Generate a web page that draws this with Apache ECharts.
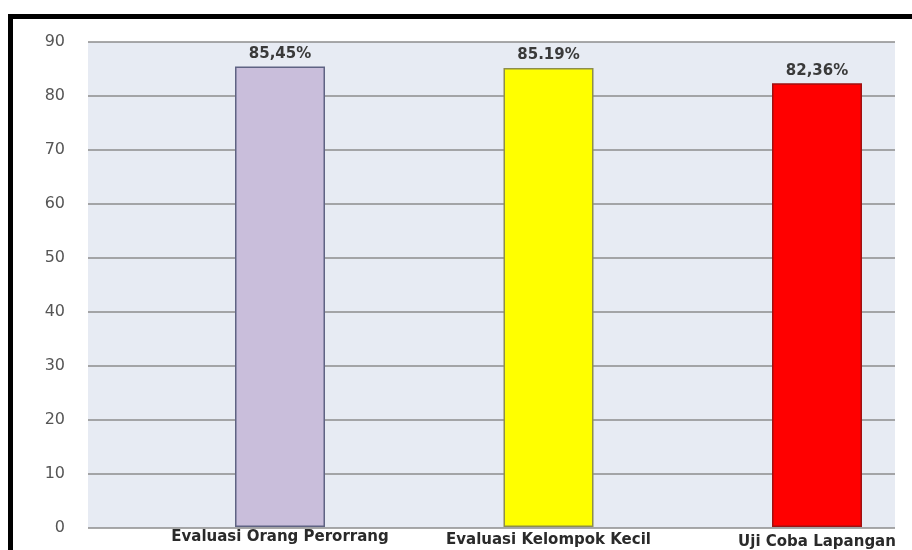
<!DOCTYPE html>
<html>
<head>
<meta charset="utf-8">
<script src="https://cdn.jsdelivr.net/npm/echarts@6/dist/echarts.min.js"></script>
<style>
  html, body { margin: 0; padding: 0; background: #fff; }
  #wrap { position: relative; width: 912px; height: 550px; overflow: hidden; }
  #chart { position: absolute; left: 0; top: 0; width: 912px; height: 550px; }
  #frame { position: absolute; left: 8px; top: 14px; width: 920px; height: 560px;
           border-top: 5px solid #000; border-left: 5px solid #000; pointer-events: none; box-sizing: border-box; }
</style>
</head>
<body>
<div id="wrap">
  <div id="chart"></div>
  <div id="frame"></div>
</div>
<script>
const categories = ["Evaluasi Orang Perorrang", "Evaluasi Kelompok Kecil", "Uji Coba Lapangan"];
const values = [85.45, 85.19, 82.36];
const valueLabels = ["85,45%", "85.19%", "82,36%"];
const barColors = ["#c9bedb", "#ffff00", "#ff0000"];
const barBorders = ["#5f6383", "#8e8e4a", "#a01010"];
const yTicks = [0, 10, 20, 30, 40, 50, 60, 70, 80, 90];

const chart = echarts.init(document.getElementById('chart'), null, { renderer: 'canvas' });

const labelStyle = { fontFamily: 'DejaVu Sans', fontWeight: 'bold', fontSize: 15, color: '#2a2a2a' };

const option = {
  animation: false,
  backgroundColor: '#ffffff',
  grid: [
    { left: 88, right: 17, top: 42, bottom: 22, show: true, backgroundColor: '#e7ebf3', borderWidth: 0 },
    { left: 280, right: 95, top: 42, bottom: 22, show: false }
  ],
  xAxis: [
    { type: 'category', gridIndex: 0, data: categories, show: false },
    {
      type: 'category', gridIndex: 1, data: categories, boundaryGap: false,
      axisLine: { show: false }, axisTick: { show: false }, splitLine: { show: false },
      axisLabel: {
        interval: 0, margin: 3,
        formatter: function (v, i) { return '{c' + i + '|' + v + '}'; },
        rich: {
          c0: Object.assign({ padding: [0, 0, 0, 0] }, labelStyle),
          c1: Object.assign({ padding: [3, 0, 0, 0] }, labelStyle),
          c2: Object.assign({ padding: [5, 0, 0, 0] }, labelStyle)
        }
      }
    }
  ],
  yAxis: [
    {
      type: 'value', gridIndex: 0, min: yTicks[0], max: yTicks[yTicks.length - 1], interval: 10,
      axisLine: { show: false }, axisTick: { show: false },
      axisLabel: { margin: 23, fontFamily: 'DejaVu Sans', fontSize: 16, color: '#555' },
      splitLine: { show: true, lineStyle: { color: '#8c8c8c', width: 1.5 } }
    },
    {
      type: 'value', gridIndex: 1, min: yTicks[0], max: yTicks[yTicks.length - 1], interval: 10,
      show: false, splitLine: { show: false }
    }
  ],
  series: [
    {
      type: 'bar', xAxisIndex: 1, yAxisIndex: 1, barWidth: 90,
      data: values.map(function (v, i) {
        return {
          value: v,
          itemStyle: { color: barColors[i], borderColor: barBorders[i], borderWidth: 1.5 },
          label: { formatter: valueLabels[i] }
        };
      }),
      label: {
        show: true, position: 'top', distance: 5,
        fontFamily: 'DejaVu Sans', fontWeight: 'bold', fontSize: 15, color: '#3a3a3a'
      }
    }
  ]
};
chart.setOption(option);
</script>
</body>
</html>
